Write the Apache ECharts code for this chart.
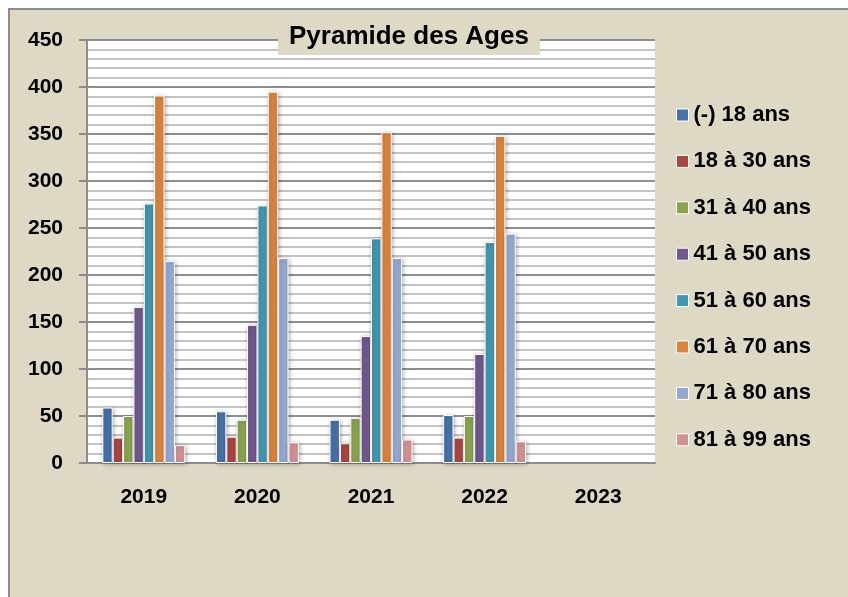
<!DOCTYPE html>
<html>
<head>
<meta charset="utf-8">
<script src="https://cdn.jsdelivr.net/npm/echarts@6/dist/echarts.min.js"></script>
<style>
html,body{margin:0;padding:0;background:#ffffff;}
#chart{width:848px;height:597px;}
</style>
</head>
<body>
<div id="chart"></div>
<script>
var categories = ['2019', '2020', '2021', '2022', '2023'];
var seriesNames = ['(-) 18 ans', '18 à 30 ans', '31 à 40 ans', '41 à 50 ans', '51 à 60 ans', '61 à 70 ans', '71 à 80 ans', '81 à 99 ans'];
var moins18 = [59, 55, 46, 51, null];
var de18a30 = [27, 28, 21, 27, null];
var de31a40 = [50, 46, 48, 50, null];
var de41a50 = [166, 147, 135, 116, null];
var de51a60 = [276, 274, 239, 235, null];
var de61a70 = [391, 395, 352, 348, null];
var de71a80 = [215, 218, 218, 244, null];
var de81a99 = [19, 22, 25, 23, null];
var yTicks = {min: 0, max: 450, interval: 50};
var colors = ['#4572A7', '#AA4643', '#89A54E', '#71588F', '#4198AF', '#DB843D', '#93A9CF', '#D19392'];

var seriesData = [moins18, de18a30, de31a40, de41a50, de51a60, de61a70, de71a80, de81a99];
var font = "'Liberation Sans', Arial, sans-serif";

var chart = echarts.init(document.getElementById('chart'));
var option = {
  animation: false,
  backgroundColor: '#ffffff',
  color: colors,
  graphic: [{
    type: 'rect',
    z: -10,
    shape: {x: 9, y: 9, width: 900, height: 700},
    style: {fill: '#DDD9C4', stroke: '#8C8C8C', lineWidth: 2}
  }],
  title: {
    text: 'Pyramide des Ages',
    left: 278,
    top: 19,
    backgroundColor: '#DDD9C4',
    padding: [3, 11, 3, 11],
    z: 10,
    textStyle: {fontFamily: font, fontWeight: 'bold', fontSize: 26, lineHeight: 30, color: '#000'}
  },
  legend: {
    orient: 'vertical',
    left: 671,
    top: 99,
    itemWidth: 12,
    itemHeight: 12,
    itemGap: 24.4,
    icon: 'rect',
    itemStyle: {borderColor: '#ffffff', borderWidth: 1},
    textStyle: {fontFamily: font, fontWeight: 'bold', fontSize: 22, lineHeight: 22, color: '#000'},
    data: seriesNames
  },
  grid: {
    left: 87, right: 193, top: 40, bottom: 134,
    show: true, backgroundColor: '#ffffff', borderWidth: 0
  },
  xAxis: {
    type: 'category',
    data: categories,
    axisLine: {lineStyle: {color: '#8C8C8C', width: 2}},
    axisTick: {show: false},
    axisLabel: {fontFamily: font, fontWeight: 'bold', fontSize: 21, color: '#000', margin: 24},
    splitLine: {show: false}
  },
  yAxis: {
    type: 'value',
    min: yTicks.min, max: yTicks.max, interval: yTicks.interval,
    axisLine: {show: true, lineStyle: {color: '#8C8C8C', width: 2}},
    axisTick: {show: true, length: 8, lineStyle: {color: '#8C8C8C', width: 2}},
    axisLabel: {fontFamily: font, fontWeight: 'bold', fontSize: 21, color: '#000', margin: 24},
    splitLine: {show: true, lineStyle: {color: '#8E8E8E', width: 2}},
    minorTick: {show: false, splitNumber: 5},
    minorSplitLine: {show: true, lineStyle: {color: '#C4C4C4', width: 2}}
  },
  series: seriesNames.map(function (name, i) {
    return {
      name: name,
      type: 'bar',
      data: seriesData[i],
      barGap: '0%',
      barCategoryGap: '27%',
      itemStyle: {
        color: colors[i],
        borderColor: '#ffffff',
        borderWidth: 1,
        shadowColor: 'rgba(0,0,0,0.3)',
        shadowBlur: 4,
        shadowOffsetX: 1,
        shadowOffsetY: 1
      }
    };
  })
};
chart.setOption(option);
</script>
</body>
</html>
